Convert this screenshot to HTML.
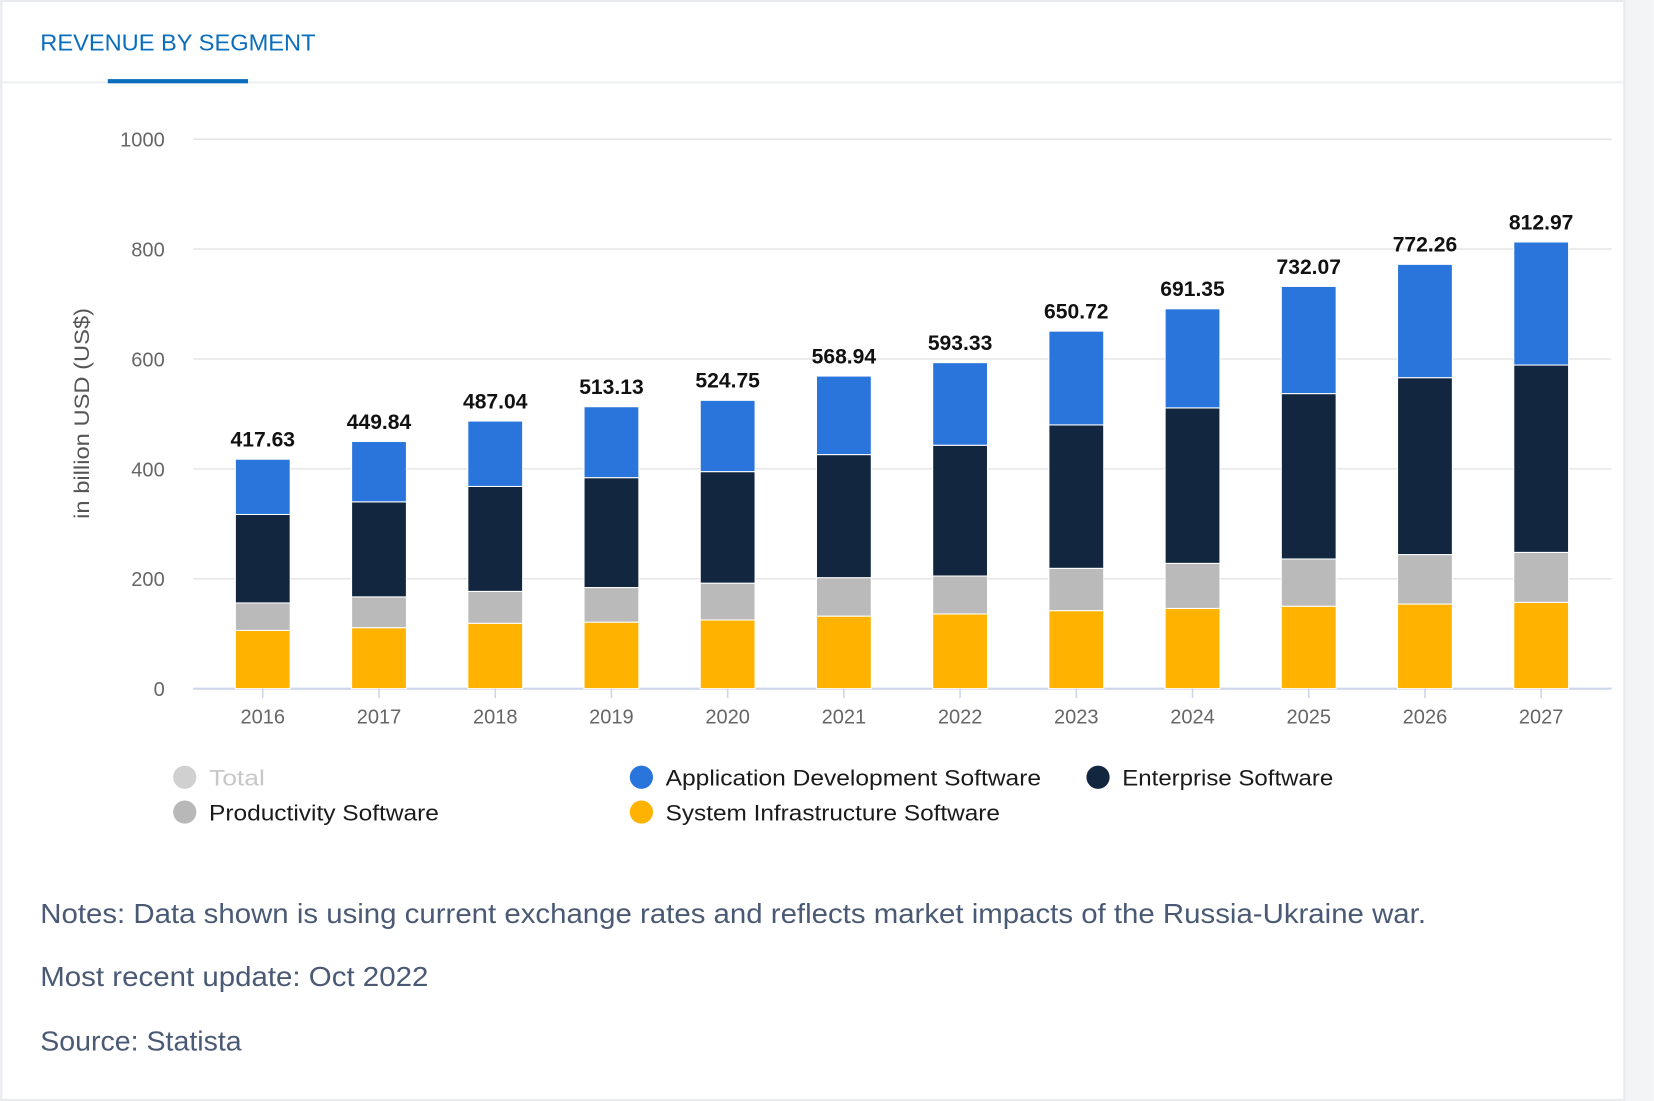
<!DOCTYPE html>
<html><head><meta charset="utf-8"><style>
html,body{margin:0;padding:0;background:#fff;}
svg{display:block;font-family:"Liberation Sans",sans-serif;}
</style></head><body>
<svg id="chart" width="1654" height="1101" viewBox="0 0 1568 1044" xmlns="http://www.w3.org/2000/svg">
<rect x="0" y="0" width="1568" height="1044" fill="#fff"/>
<rect x="1540" y="0" width="28" height="1044" fill="#f3f4f6"/>
<rect x="1" y="1" width="1539" height="1042" fill="none" stroke="#e8eaee" stroke-width="2"/>
<text x="38" y="48" font-size="22" fill="#0a6ebd" textLength="261" lengthAdjust="spacingAndGlyphs">REVENUE BY SEGMENT</text>
<line x1="2" y1="78" x2="1540" y2="78" stroke="#eef0f3" stroke-width="2"/>
<rect x="102" y="75" width="133" height="4" fill="#0a6ebd"/>
<g id="grid"></g>
<g id="bars"></g>
<g id="labels"></g>
<text transform="translate(84,392) rotate(-90)" text-anchor="middle" font-size="20" fill="#555" textLength="200" lengthAdjust="spacingAndGlyphs">in billion USD (US$)</text>
<g id="legend" font-size="21" fill="#1a1a1a">
<circle cx="175" cy="737" r="11" fill="#d0d0d0"/>
<text x="198" y="745" fill="#c8c8c8" textLength="53" lengthAdjust="spacingAndGlyphs">Total</text>
<circle cx="608" cy="737" r="11" fill="#2a75db"/>
<text x="631" y="745" textLength="356" lengthAdjust="spacingAndGlyphs">Application Development Software</text>
<circle cx="1041" cy="737" r="11" fill="#12263f"/>
<text x="1064" y="745" textLength="200" lengthAdjust="spacingAndGlyphs">Enterprise Software</text>
<circle cx="175" cy="770" r="11" fill="#b8b8b8"/>
<text x="198" y="778" textLength="218" lengthAdjust="spacingAndGlyphs">Productivity Software</text>
<circle cx="608" cy="770" r="11" fill="#ffb300"/>
<text x="631" y="778" textLength="317" lengthAdjust="spacingAndGlyphs">System Infrastructure Software</text>
</g>
<g font-size="26" fill="#4a5a75">
<text x="38" y="875" textLength="1314" lengthAdjust="spacingAndGlyphs">Notes: Data shown is using current exchange rates and reflects market impacts of the Russia-Ukraine war.</text>
<text x="38" y="935" textLength="368" lengthAdjust="spacingAndGlyphs">Most recent update: Oct 2022</text>
<text x="38" y="996" textLength="191" lengthAdjust="spacingAndGlyphs">Source: Statista</text>
</g>
</svg>
<script>
const years = ["2016","2017","2018","2019","2020","2021","2022","2023","2024","2025","2026","2027"];
const sysInfra = [106,111,119,121,125,132,136,142,146,150,154,157];
const productivity = [50,56,58,63,67,70,69,77,82,86,90,91];
const enterprise = [161,173,191,200,203,224,238,261,283,301,322,341];
const appDev = [100.63,109.84,119.04,129.13,129.75,142.94,150.33,170.72,180.35,195.07,206.26,223.97];
const totalLabels = ["417.63","449.84","487.04","513.13","524.75","568.94","593.33","650.72","691.35","732.07","772.26","812.97"];
const yTicks = [0,200,400,600,800,1000];

const NS = "http://www.w3.org/2000/svg";
const y = v => 653 - v * 0.521;
const x = i => 249 + i * 110.2;
const BW = 52;
function mk(tag, attrs, parent){
  const e = document.createElementNS(NS, tag);
  for (const k in attrs) e.setAttribute(k, attrs[k]);
  parent.appendChild(e); return e;
}
const grid = document.getElementById('grid');
yTicks.forEach(t => {
  const l = mk('line', {x1:183, x2:1528, y1:y(t), y2:y(t), stroke: t===0 ? '#ccd6eb' : '#e6e6e6', 'stroke-width': t===0?2:1.5}, grid);
  
  
  const tx = mk('text', {x:156, y:y(t)+7, 'text-anchor':'end', 'font-size':19, fill:'#666'}, grid);
  tx.textContent = t;
  
  
});
const bars = document.getElementById('bars');
const labels = document.getElementById('labels');
const series = [[sysInfra,'#ffb300','sysinfra'],[productivity,'#bababa','productivity'],[enterprise,'#12263f','enterprise'],[appDev,'#2a75db','appdev']];
years.forEach((yr, i) => {
  let base = 0;
  series.forEach(([arr, col, nm]) => {
    const v = arr[i];
    const r = mk('rect', {x:x(i)-BW/2, y:y(base+v), width:BW, height:y(base)-y(base+v), fill:col, stroke:'#fff', 'stroke-width':1}, bars);
    
    
    base += v;
  });
  const tl = mk('text', {x:x(i), y:y(base)-12, 'text-anchor':'middle', 'font-size':20, 'font-weight':'600', fill:'#111'}, labels);
  tl.textContent = totalLabels[i];
  
  
  const tk = mk('line', {x1:x(i), x2:x(i), y1:653, y2:662, stroke:'#ccd6eb', 'stroke-width':1.5}, labels);
  
  
  const xl = mk('text', {x:x(i), y:686, 'text-anchor':'middle', 'font-size':19, fill:'#666'}, labels);
  xl.textContent = yr;
  
  
});
</script>
</body></html>
